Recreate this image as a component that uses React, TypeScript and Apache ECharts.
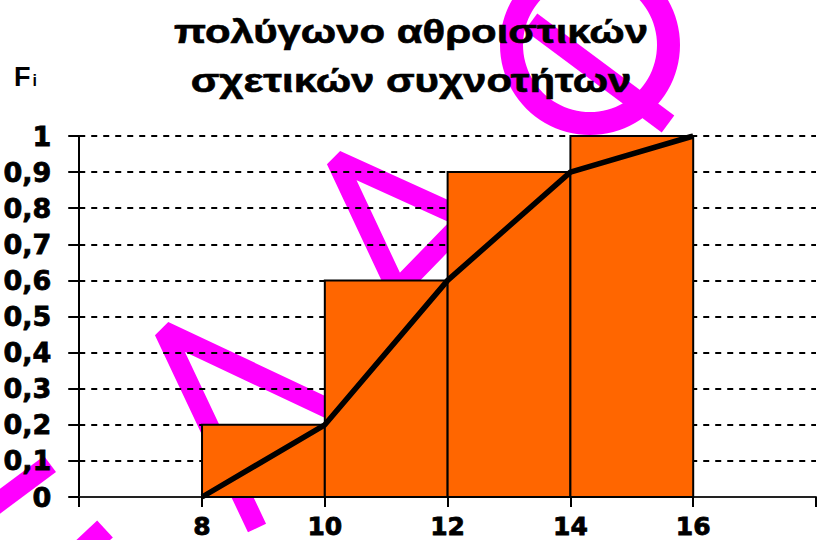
import React, { useEffect, useRef } from "react";
import * as echarts from "echarts";

// ---- data ----
const classStarts = [8, 10, 12, 14];
const classEnds = [10, 12, 14, 16];
const cumRelFreq = [0.2, 0.6, 0.9, 1.0];
const polygonX = [8, 10, 12, 14, 16];
const polygonY = [0, 0.2, 0.6, 0.9, 1.0];
const xHiddenLabels = [6, 18];
const titleLines = ["πολύγωνο αθροιστικών", "σχετικών συχνοτήτων"];

const MAGENTA = "#FF00FF";

export default function App() {
  const ref = useRef<HTMLDivElement>(null);
  useEffect(() => {
    if (!ref.current) return;
    const chart = echarts.init(ref.current, null, { renderer: "svg" });
    const barData = classStarts.map((s, i) => [s, classEnds[i], cumRelFreq[i]]);
    const lineData = polygonX.map((x, i) => [x, polygonY[i]]);
    const labelFont = "DejaVu Sans";
    chart.setOption({
      animation: false,
      backgroundColor: "#fff",
      grid: { left: 78, top: 136, bottom: 43, right: -7, containLabel: false },
      xAxis: {
        type: "value",
        min: 6,
        max: 18,
        interval: 2,
        axisLine: { show: true, lineStyle: { color: "#222", width: 2 } },
        axisTick: { show: true, length: 10, lineStyle: { color: "#000", width: 2 } },
        splitLine: { show: false },
        axisLabel: {
          margin: 17,
          color: "#000",
          fontFamily: labelFont,
          fontWeight: "bold",
          fontSize: 25,
          textBorderColor: "#000",
          textBorderWidth: 0.8,
          formatter: (v: number) => (xHiddenLabels.includes(v) ? "" : String(v)),
        },
      },
      yAxis: {
        type: "value",
        min: 0,
        max: 1,
        interval: 0.1,
        axisLine: { show: true, lineStyle: { color: "#000", width: 2 } },
        axisTick: { show: true, length: 11, lineStyle: { color: "#000", width: 2 } },
        splitLine: { show: true, lineStyle: { color: "#000", width: 2, type: [6, 6] } },
        axisLabel: {
          margin: 28,
          color: "#000",
          fontFamily: labelFont,
          fontWeight: "bold",
          fontSize: 27,
          textBorderColor: "#000",
          textBorderWidth: 0.8,
          formatter: (v: number) => String(Math.round(v * 10) / 10).replace(".", ","),
        },
      },
      graphic: [
        { type: "polyline", z: -1, shape: { points: [[257, 528], [164, 331], [340, 414]] }, style: { stroke: MAGENTA, lineWidth: 20, fill: null, lineJoin: "bevel" } },
        { type: "polyline", z: -1, shape: { points: [[-40, 531], [50, 464]] }, style: { stroke: MAGENTA, lineWidth: 20, fill: null } },
        { type: "polyline", z: -1, shape: { points: [[105, 529], [60, 571]] }, style: { stroke: MAGENTA, lineWidth: 23, fill: null } },
        { type: "polygon", z: -1, shape: { points: [[336, 160], [466, 219], [397, 290]] }, style: { stroke: MAGENTA, lineWidth: 20, fill: null, lineJoin: "bevel" } },
        { type: "ring", z: -1, shape: { cx: 590, cy: 45, r: 90, r0: 67 }, style: { fill: MAGENTA } },
        { type: "polyline", z: -1, shape: { points: [[531, 22], [668, 124]] }, style: { stroke: MAGENTA, lineWidth: 21, fill: null } },
        {
          type: "text", z: 100, x: 411, y: 48, scaleX: 1.27,
          style: { text: titleLines[0], fontSize: 33, fontWeight: "bold", fontFamily: "Liberation Sans", fill: "#000", align: "center", verticalAlign: "bottom", stroke: "#000", lineWidth: 0.6 },
        },
        {
          type: "text", z: 100, x: 411, y: 97, scaleX: 1.27,
          style: { text: titleLines[1], fontSize: 33, fontWeight: "bold", fontFamily: "Liberation Sans", fill: "#000", align: "center", verticalAlign: "bottom", stroke: "#000", lineWidth: 0.6 },
        },
        {
          type: "text", z: 100, x: 14, y: 90,
          style: {
            text: "{F|F}{i|i}",
            verticalAlign: "bottom",
            rich: {
              F: { fontSize: 27, fontWeight: "bold", fontFamily: "Liberation Sans", fill: "#000", verticalAlign: "bottom" },
              i: { fontSize: 16, fontWeight: "bold", fontFamily: "Liberation Sans", fill: "#000", verticalAlign: "bottom", padding: [0, 0, 2, 2] },
            },
          },
        },
      ],
      series: [
        {
          type: "custom",
          z: 2,
          data: barData,
          encode: { x: [0, 1], y: 2 },
          renderItem: (params: any, api: any) => {
            const p0 = api.coord([api.value(0), api.value(2)]);
            const p1 = api.coord([api.value(1), 0]);
            return {
              type: "rect",
              shape: { x: p0[0], y: p0[1], width: p1[0] - p0[0], height: p1[1] - p0[1] },
              style: { fill: "#FF6600", stroke: "#000", lineWidth: 2 },
            };
          },
        },
        {
          type: "line",
          z: 5,
          data: lineData,
          symbol: "none",
          lineStyle: { color: "#000", width: 5.5 },
        },
      ],
    });
    return () => chart.dispose();
  }, []);
  return <div ref={ref} style={{ position: "absolute", left: 0, top: 0, width: 819, height: 540 }} />;
}
